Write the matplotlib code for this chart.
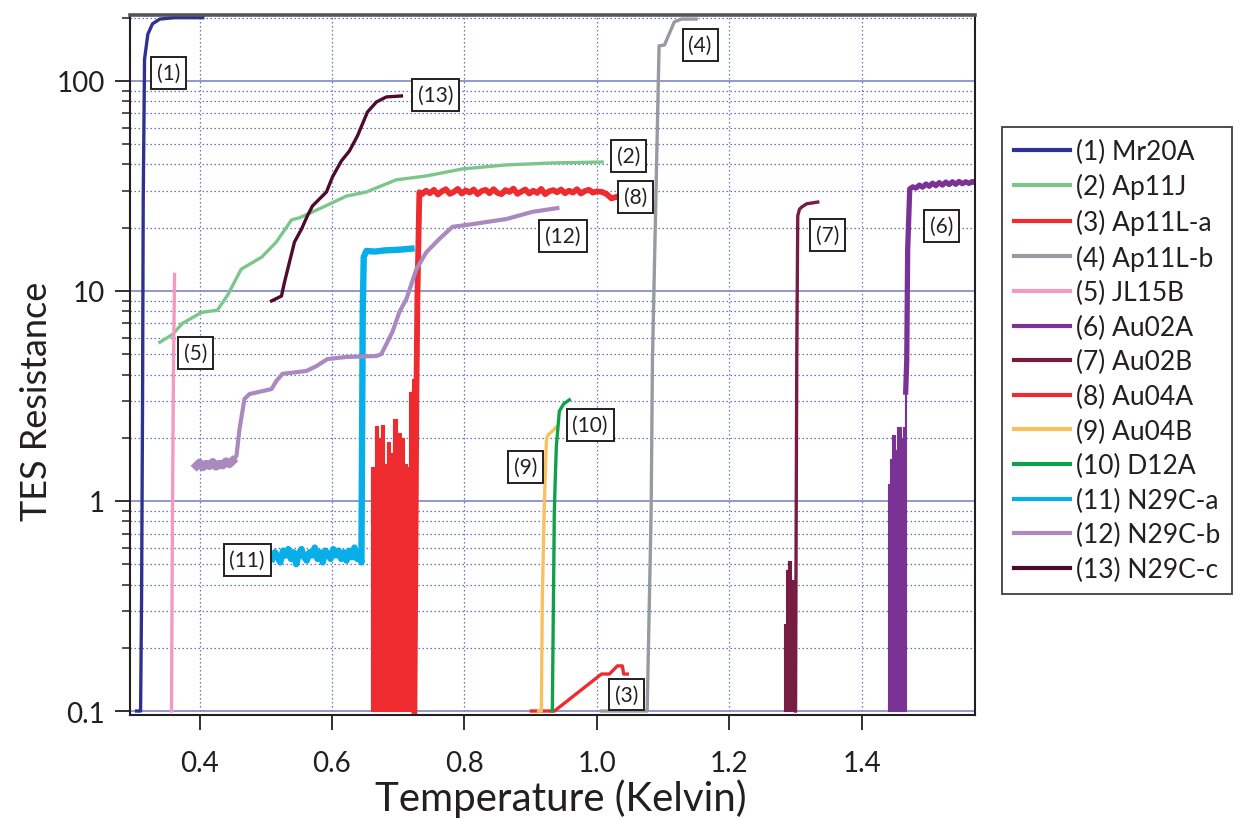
import matplotlib
matplotlib.use("Agg")
import matplotlib.pyplot as plt
from matplotlib.lines import Line2D
from matplotlib.ticker import FixedLocator, LogLocator, NullFormatter

plt.rcParams["font.family"] = ["Lato", "DejaVu Sans"]
INK = "#231F20"

# ---- transition curves: temperature (K) vs TES resistance ----
mr20a_t = [0.305, 0.311, 0.3125, 0.314, 0.315, 0.317, 0.322, 0.329, 0.340, 0.362, 0.405]
mr20a_r = [0.1, 0.1, 0.34, 3.0, 27.0, 127, 167, 187, 197, 200, 200]

ap11j_t = [0.340, 0.359, 0.374, 0.403, 0.427, 0.442, 0.463, 0.494, 0.516, 0.539, 0.551,
           0.581, 0.622, 0.652, 0.697, 0.743, 0.797, 0.863, 0.933, 1.008]
ap11j_r = [5.7, 6.2, 7.0, 7.9, 8.1, 9.5, 12.7, 14.5, 17.1, 21.8, 22.3,
           24.6, 28.3, 29.6, 33.8, 35.3, 38.1, 39.8, 40.7, 41.1]

ap11la_t = [0.901, 0.936, 1.007, 1.019, 1.031, 1.0385, 1.0405, 1.046]
ap11la_r = [0.1, 0.1, 0.150, 0.150, 0.164, 0.164, 0.150, 0.150]

ap11lb_t = [1.007, 1.076, 1.082, 1.084, 1.094, 1.102, 1.117, 1.128, 1.150]
ap11lb_r = [0.1, 0.1, 0.89, 4.7, 147, 148, 191, 197, 197]

jl15b_t = [0.3577, 0.3592, 0.3608, 0.3623]
jl15b_r = [0.1, 0.9, 4.7, 12.0]

# Au02A: noisy foot, then the transition and the normal branch
au02a_noise_t = [1.4392, 1.4423, 1.4453, 1.4498, 1.4528, 1.4589, 1.4619, 1.4649, 1.4672]
au02a_noise_r = [1.2, 1.58, 2.06, 1.75, 2.25, 2.0, 2.25, 3.3, 3.3]
au02a_t = [1.4664, 1.468, 1.4694, 1.4725, 1.477, 1.482, 1.487, 1.492, 1.497, 1.502,
           1.507, 1.512, 1.517, 1.522, 1.527, 1.532, 1.537, 1.542, 1.547, 1.552,
           1.557, 1.562, 1.567, 1.571]
au02a_r = [3.3, 4.7, 15.8, 30.6, 31.3, 30.9, 31.9, 31.2, 32.3, 31.5, 32.6, 31.7,
           32.8, 31.9, 33.0, 32.1, 33.1, 32.2, 33.2, 32.4, 33.1, 32.5, 33.2, 32.8]

au02b_noise_t = [1.2823, 1.2853, 1.2883, 1.2928, 1.2974, 1.3010]
au02b_noise_r = [0.26, 0.47, 0.52, 0.42, 0.42, 0.42]
au02b_t = [1.3000, 1.3019, 1.3034, 1.3060, 1.3094, 1.3170, 1.3336]
au02b_r = [0.1, 4.7, 22.8, 24.5, 25.1, 26.0, 26.5]

au04a_noise_t = [0.6596, 0.6657, 0.6702, 0.6747, 0.6792, 0.6838, 0.6883, 0.6928,
                 0.6989, 0.7049, 0.7094, 0.7140, 0.7170, 0.7215, 0.7250]
au04a_noise_r = [1.45, 2.27, 2.0, 2.3, 1.5, 1.9, 1.7, 2.45,
                 2.1, 2.0, 1.5, 1.45, 3.3, 3.8, 3.8]
au04a_t = [0.7245, 0.7275, 0.729, 0.732, 0.736, 0.742, 0.748, 0.754, 0.760, 0.766,
           0.772, 0.778, 0.784, 0.790, 0.796, 0.802, 0.808, 0.814, 0.820, 0.826,
           0.832, 0.838, 0.844, 0.850, 0.856, 0.862, 0.868, 0.874, 0.880, 0.886,
           0.892, 0.898, 0.904, 0.910, 0.916, 0.922, 0.928, 0.934, 0.940, 0.946,
           0.952, 0.958, 0.964, 0.970, 0.976, 0.982, 0.988, 0.994, 1.000, 1.008,
           1.015, 1.022, 1.029]
au04a_r = [0.1, 3.1, 9.2, 29.5, 28.9, 30.0, 29.2, 30.3, 28.8, 29.8,
           30.5, 29.0, 29.6, 30.6, 29.1, 30.1, 29.4, 30.4, 28.9, 29.9,
           30.3, 29.2, 30.5, 29.3, 28.9, 30.2, 29.6, 30.7, 29.0, 29.7,
           30.4, 29.1, 30.0, 29.3, 30.6, 28.9, 29.8, 30.2, 29.5, 30.4,
           29.2, 30.0, 29.4, 30.5, 29.1, 29.9, 30.3, 29.4, 29.8, 29.6,
           28.9, 27.6, 28.0]

au04b_t = [0.9120, 0.9162, 0.9177, 0.9208, 0.9238, 0.9253, 0.9283, 0.9328, 0.9389]
au04b_r = [0.1, 0.1, 0.35, 0.99, 1.93, 2.04, 2.09, 2.15, 2.25]

d12a_t = [0.9328, 0.9358, 0.9372, 0.9389, 0.9434, 0.9500, 0.9585]
d12a_r = [0.1, 0.89, 1.27, 1.83, 2.68, 2.9, 3.03]

n29ca_t = [0.510, 0.514, 0.518, 0.522, 0.526, 0.530, 0.534, 0.538, 0.542, 0.546,
           0.550, 0.554, 0.558, 0.562, 0.566, 0.570, 0.574, 0.578, 0.582, 0.586,
           0.590, 0.594, 0.598, 0.602, 0.606, 0.610, 0.614, 0.618, 0.622, 0.626,
           0.630, 0.634, 0.638, 0.642, 0.6445, 0.6455, 0.6465, 0.648, 0.652, 0.665,
           0.680, 0.700, 0.720]
n29ca_r = [0.53, 0.57, 0.54, 0.51, 0.58, 0.55, 0.59, 0.53, 0.57, 0.50,
           0.56, 0.59, 0.54, 0.52, 0.57, 0.55, 0.60, 0.53, 0.57, 0.51,
           0.58, 0.56, 0.53, 0.59, 0.55, 0.58, 0.53, 0.57, 0.52, 0.58,
           0.54, 0.60, 0.53, 0.56, 0.51, 2.0, 8.0, 14.5, 15.5, 15.4,
           15.6, 15.7, 15.9]

n29cb_t = [0.3955, 0.400, 0.405, 0.410, 0.415, 0.420, 0.425, 0.430, 0.435, 0.440,
           0.445, 0.4498, 0.4558, 0.4604, 0.4679, 0.4755, 0.5087, 0.5162, 0.5253,
           0.5615, 0.5766, 0.5932, 0.6219, 0.6672, 0.6747, 0.6913, 0.7019, 0.7125,
           0.7275, 0.7426, 0.7623, 0.7819, 0.8121, 0.8634, 0.9026, 0.9404]
n29cb_r = [1.47, 1.52, 1.45, 1.50, 1.47, 1.53, 1.46, 1.50, 1.48, 1.54,
           1.50, 1.55, 1.64, 2.2, 3.06, 3.23, 3.41, 3.73, 4.03,
           4.16, 4.39, 4.74, 4.85, 4.9, 5.01, 6.38, 7.94, 9.16,
           12.7, 15.3, 17.7, 20.2, 20.8, 22.0, 23.8, 24.8]

n29cc_t = [0.5087, 0.5238, 0.5283, 0.5358, 0.5434, 0.5540, 0.5630, 0.5706, 0.5811,
           0.5917, 0.6008, 0.6143, 0.6264, 0.6385, 0.6536, 0.6672, 0.6823, 0.7049]
n29cc_r = [8.96, 9.46, 11.0, 13.7, 17.1, 19.7, 22.8, 25.4, 27.4,
           29.6, 34.9, 41.6, 46.4, 54.7, 71.1, 79.4, 83.9, 84.8]

names = ["(1) Mr20A", "(2) Ap11J", "(3) Ap11L-a", "(4) Ap11L-b", "(5) JL15B",
         "(6) Au02A", "(7) Au02B", "(8) Au04A", "(9) Au04B", "(10) D12A",
         "(11) N29C-a", "(12) N29C-b", "(13) N29C-c"]
colors = ["#2E3192", "#7DC68B", "#EE2B2F", "#959BA0", "#F49AC1", "#7A3394", "#771D43",
          "#EE2B2F", "#F7C15F", "#0FA14A", "#08AEE9", "#AA89BE", "#4E0B2E"]

# tag positions (T, R) for the boxed curve numbers
tag_text = ["(1)", "(2)", "(3)", "(4)", "(5)", "(6)", "(7)", "(8)", "(9)", "(10)",
            "(11)", "(12)", "(13)"]
tag_t = [0.353, 1.048, 1.045, 1.156, 0.394, 1.521, 1.348, 1.058, 0.892, 0.990,
         0.472, 0.949, 0.756]
tag_r = [109, 44, 0.120, 148, 5.07, 20.4, 18.5, 28, 1.45, 2.3, 0.524, 18.3, 85.8]

fig = plt.figure(figsize=(12.45, 8.2), dpi=100)
ax = fig.add_axes([0.1044, 0.1268, 0.6787, 0.8537])

lw = 2.4
ax.plot(mr20a_t, mr20a_r, color=colors[0], lw=lw)
ax.plot(ap11j_t, ap11j_r, color=colors[1], lw=lw)
ax.plot(ap11la_t, ap11la_r, color=colors[2], lw=lw)
ax.plot(ap11lb_t, ap11lb_r, color=colors[3], lw=lw)
ax.plot(jl15b_t, jl15b_r, color=colors[4], lw=lw)
ax.fill_between(au02a_noise_t, 0.1, au02a_noise_r, step="post", color=colors[5], lw=0.8)
ax.plot(au02a_t, au02a_r, color=colors[5], lw=3.8)
ax.fill_between(au02b_noise_t, 0.1, au02b_noise_r, step="post", color=colors[6], lw=0.8)
ax.plot(au02b_t, au02b_r, color=colors[6], lw=lw)
ax.fill_between(au04a_noise_t, 0.1, au04a_noise_r, step="post", color=colors[7], lw=0.8)
ax.plot(au04a_t, au04a_r, color=colors[7], lw=4.2)
ax.plot(au04b_t, au04b_r, color=colors[8], lw=lw)
ax.plot(d12a_t, d12a_r, color=colors[9], lw=lw)
ax.plot(n29ca_t, n29ca_r, color=colors[10], lw=4.6)
ax.plot(n29cb_t, n29cb_r, color=colors[11], lw=3.0)
ax.plot(n29cb_t[:12], n29cb_r[:12], color=colors[11], lw=6.0)
ax.plot(n29cc_t, n29cc_r, color=colors[12], lw=lw)

for txt, t, r in zip(tag_text, tag_t, tag_r):
    ax.text(t, r, txt, ha="center", va="center", fontsize=15, color=INK, zorder=10,
            bbox=dict(boxstyle="square,pad=0.28", fc="white", ec=INK, lw=1.4))

ax.set_yscale("log")
ax.set_xlim(0.295, 1.571)
ax.set_ylim(0.0957, 206)

ax.xaxis.set_major_locator(FixedLocator([0.4, 0.6, 0.8, 1.0, 1.2, 1.4]))
ax.set_xticklabels(["0.4", "0.6", "0.8", "1.0", "1.2", "1.4"])
ax.yaxis.set_major_locator(FixedLocator([0.1, 1, 10, 100]))
ax.set_yticklabels(["0.1", "1", "10", "100"])
ax.yaxis.set_minor_locator(LogLocator(base=10, subs=range(2, 10)))
ax.yaxis.set_minor_formatter(NullFormatter())

ax.tick_params(axis="both", which="major", direction="out", length=11, width=1.3,
               labelsize=20, colors=INK)
ax.tick_params(axis="x", which="major", pad=14)
ax.tick_params(axis="y", which="major", pad=7)
ax.tick_params(axis="y", which="minor", direction="out", length=6, width=1.1, colors=INK)

ax.set_axisbelow(True)
ax.grid(axis="y", which="major", color="#7C87C9", lw=1.2, ls="-")
ax.grid(axis="y", which="minor", color="#6672BE", lw=0.9, ls=(0, (1.2, 2)))
ax.grid(axis="x", which="major", color="#6672BE", lw=0.9, ls=(0, (1.2, 2)))

for side in ["left", "bottom", "right"]:
    ax.spines[side].set_color(INK)
    ax.spines[side].set_linewidth(1.5)
ax.spines["top"].set_color("#555555")
ax.spines["top"].set_linewidth(2.6)

ax.set_xlabel("Temperature (Kelvin)", fontsize=29, color=INK)
ax.set_ylabel("TES Resistance", fontsize=26, color=INK)
ax.xaxis.set_label_coords(0.51, -0.090)
ax.yaxis.set_label_coords(-0.091, 0.45)

handles = [Line2D([], [], color=c, lw=3) for c in colors]
leg = fig.legend(handles, names, loc="upper left", bbox_to_anchor=(0.805, 0.844),
                 fontsize=19, frameon=True, fancybox=False, edgecolor=INK,
                 handlelength=2.1, handletextpad=0.25, labelspacing=0.36,
                 borderpad=0.45, borderaxespad=0)
leg.get_frame().set_linewidth(1.4)
for text in leg.get_texts():
    text.set_color(INK)

fig.savefig("out.png", dpi=100)
